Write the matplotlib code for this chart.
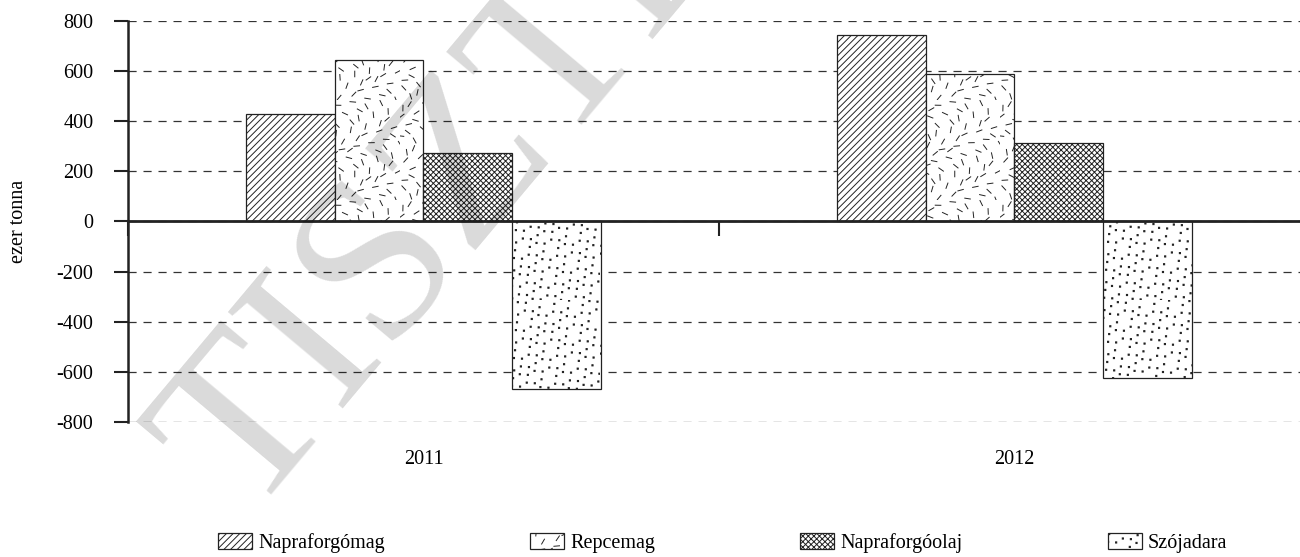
import numpy as np
import matplotlib
matplotlib.use('Agg')
import matplotlib.pyplot as plt
import matplotlib.hatch as mhatch
from matplotlib.path import Path

# data (ezer tonna)
years = ['2011', '2012']
series = ['Napraforgómag', 'Repcemag', 'Napraforgóolaj', 'Szójadara']
napraforgomag = [430, 745]
repcemag = [645, 590]
napraforgoolaj = [275, 315]
szojadara = [-670, -625]
yticks = [-800, -600, -400, -200, 0, 200, 400, 600, 800]


# scattered short dashes texture (replaces the '*' hatch)
class DashHatch(mhatch.HatchPatternBase):
    def __init__(self, hatch, density):
        self.n = hatch.count('*') * 90
        self.num_vertices = self.n * 2

    def set_vertices_and_codes(self, vertices, codes):
        half = 0.028
        for i in range(self.n):
            x = (0.5 + i * 0.7548776662) % 1.0
            y = (0.5 + i * 0.5698402910) % 1.0
            a = ((0.2 + i * 0.3819660113) % 1.0) * np.pi
            dx, dy = half * np.cos(a), half * np.sin(a)
            vertices[2 * i] = (x - dx, y - dy)
            vertices[2 * i + 1] = (x + dx, y + dy)
            codes[2 * i] = Path.MOVETO
            codes[2 * i + 1] = Path.LINETO


# scattered dots texture (replaces the '.' hatch)
class DotHatch(mhatch.HatchPatternBase):
    def __init__(self, hatch, density):
        self.n = hatch.count('.') * 140
        self.num_vertices = self.n * 5

    def set_vertices_and_codes(self, vertices, codes):
        s = 0.006
        for i in range(self.n):
            x = (0.27 + i * 0.7548776662) % 1.0
            y = (0.05 + i * 0.5698402910) % 1.0
            k = 5 * i
            vertices[k:k + 5] = [(x - s, y - s), (x + s, y - s), (x + s, y + s), (x - s, y + s), (x - s, y - s)]
            codes[k] = Path.MOVETO
            codes[k + 1:k + 4] = Path.LINETO
            codes[k + 4] = Path.CLOSEPOLY


types = mhatch._hatch_types
types[types.index(mhatch.Stars)] = DashHatch
types[types.index(mhatch.SmallFilledCircles)] = DotHatch

plt.rcParams['font.family'] = ['Liberation Serif', 'DejaVu Serif']
plt.rcParams['hatch.linewidth'] = 0.7
plt.rcParams['hatch.color'] = '#222222'
FS = 14.5

fig = plt.figure(figsize=(13, 5.57), dpi=100)
ax = fig.add_axes([0.09846, 0.24237, 0.90923, 0.71993])

x = np.arange(len(years))
w = 0.15
values = [napraforgomag, repcemag, napraforgoolaj, szojadara]
hatches = ['/////', '*', 'xxxxxx', '.']
for k, (name, vals, h) in enumerate(zip(series, values, hatches)):
    ax.bar(x + (k - 1.5) * w, vals, w, label=name, facecolor='white',
           edgecolor='#222222', linewidth=0.9, hatch=h, zorder=2)

ax.set_xlim(-0.5, 1.5)
ax.set_ylim(-800, 800)
ax.set_yticks(yticks)
ax.set_yticklabels([str(v) for v in yticks], fontsize=FS)
ax.tick_params(axis='y', length=10, width=1.5, pad=15, color='#222222')

# x axis on the zero line, ticks between categories
ax.spines['bottom'].set_position(('data', 0))
ax.spines['bottom'].set_linewidth(2)
ax.spines['bottom'].set_color('#222222')
ax.spines['bottom'].set_zorder(3)
ax.spines['left'].set_linewidth(1.8)
ax.spines['left'].set_color('#222222')
ax.spines['top'].set_visible(False)
ax.spines['right'].set_visible(False)
ax.set_xticks([-0.5, 0.5, 1.5])
ax.set_xticklabels(['', '', ''])
ax.tick_params(axis='x', length=11, width=1.5, color='#222222', direction='out')

for i, yr in enumerate(years):
    ax.annotate(yr, (x[i], -800), xytext=(0, -20), textcoords='offset points',
                ha='center', va='top', fontsize=FS)

ax.yaxis.grid(True, linestyle=(0, (6.5, 5.5)), color='#333333', linewidth=0.9)
ax.set_axisbelow(True)

ax.set_ylabel('ezer tonna', fontsize=FS)
ax.yaxis.set_label_coords(-0.085, 0.5)

fig.legend(loc='center', bbox_to_anchor=(0.556, 0.025), ncol=4, frameon=False,
           fontsize=FS, handlelength=1.7, handleheight=0.8, handletextpad=0.3,
           columnspacing=7.2)

# watermark
fig.text(0.19, 0.07, 'TISZTELT', fontsize=165, rotation=50, rotation_mode='anchor',
         ha='left', va='baseline', color='black', alpha=0.15, zorder=10)

fig.savefig('out.png', dpi=100)
